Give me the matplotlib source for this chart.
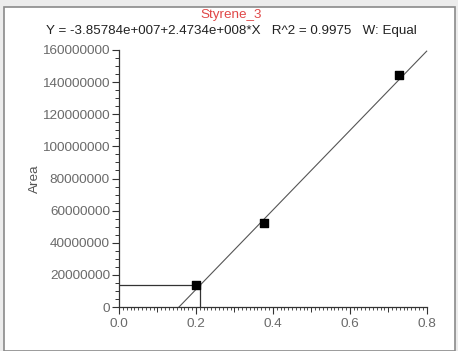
import numpy as np
import matplotlib
matplotlib.use("Agg")
import matplotlib.pyplot as plt
from matplotlib.patches import Rectangle
from matplotlib.ticker import MultipleLocator, FuncFormatter

# calibration data
conc = [0.2, 0.378, 0.728]
area = [13.5e6, 52.5e6, 144.5e6]
intercept = -3.85784e7
slope = 2.4734e8
r2 = 0.9975
sample_area = 13.5e6
title = "Styrene_3"

plt.rcParams['font.family'] = ['Liberation Sans', 'DejaVu Sans']

fig = plt.figure(figsize=(4.58, 3.51), dpi=100, facecolor='#ececec')
W, H = 458.0, 351.0

# white panel with gray border
fig.patches.append(Rectangle((4 / W, 0), 451 / W, 1 - 7 / H, transform=fig.transFigure,
                             facecolor='white', edgecolor='#8a8a8a', linewidth=1.2, zorder=-1))

ax = fig.add_axes([119 / W, 1 - 307 / H, 307.7 / W, 257 / H])
ax.set_zorder(2)
ax.set_facecolor('none')
for s in ['top', 'right']:
    ax.spines[s].set_visible(False)
for s in ['left', 'bottom']:
    ax.spines[s].set_color('#333333')
    ax.spines[s].set_linewidth(0.9)

ax.set_xlim(0, 0.8)
ax.set_ylim(0, 160e6)

# regression line
x0 = -intercept / slope
xs = np.array([x0, 0.8])
ax.plot(xs, intercept + slope * xs, color='#555555', lw=0.8, zorder=2, clip_on=False)

# sample crosshair
x_sample = (sample_area - intercept) / slope
ax.plot([0, x_sample], [sample_area, sample_area], color='#333333', lw=0.9, zorder=2)
ax.plot([x_sample, x_sample], [0, sample_area], color='#333333', lw=0.9, zorder=2)

ax.scatter(conc, area, marker='s', s=30, color='black', zorder=3, clip_on=False)

ax.xaxis.set_major_locator(MultipleLocator(0.2))
ax.xaxis.set_minor_locator(MultipleLocator(0.01))
ax.yaxis.set_major_locator(MultipleLocator(20e6))
ax.yaxis.set_minor_locator(MultipleLocator(5e6))
ax.xaxis.set_major_formatter(FuncFormatter(lambda v, p: "%.1f" % v))
ax.yaxis.set_major_formatter(FuncFormatter(lambda v, p: "%d" % round(v)))

ax.tick_params(axis='both', which='major', direction='out', length=5, width=0.8,
               color='#333333', labelcolor='#6a6a6a', labelsize=9.7, pad=1.5)
ax.tick_params(axis='x', which='minor', direction='out', length=2, width=0.6, color='#333333')
ax.tick_params(axis='y', which='minor', direction='out', length=3, width=0.7, color='#333333')
ax.tick_params(axis='x', which='major', pad=3)

# medium ticks at the half-way marks
sec = ax.secondary_xaxis('bottom')
sec.set_xticks([0.1, 0.3, 0.5, 0.7])
sec.tick_params(length=3.5, width=0.7, color='#333333', labelbottom=False)
sec.spines['bottom'].set_visible(False)

ax.set_ylabel("Area", color='#555555', fontsize=9.7, labelpad=1)

eq = "Y = %.5fe+007+%.4fe+008*X   R^2 = %.4f   W: Equal" % (intercept / 1e7, slope / 1e8, r2)
fig.text(231 / W, 1 - 15 / H, title, color='#e04848', fontsize=9.7, ha='center', va='center')
fig.text(231 / W, 1 - 31 / H, eq, color='#222222', fontsize=9.6, ha='center', va='center')

fig.savefig("out.png", dpi=100, facecolor=fig.get_facecolor())
